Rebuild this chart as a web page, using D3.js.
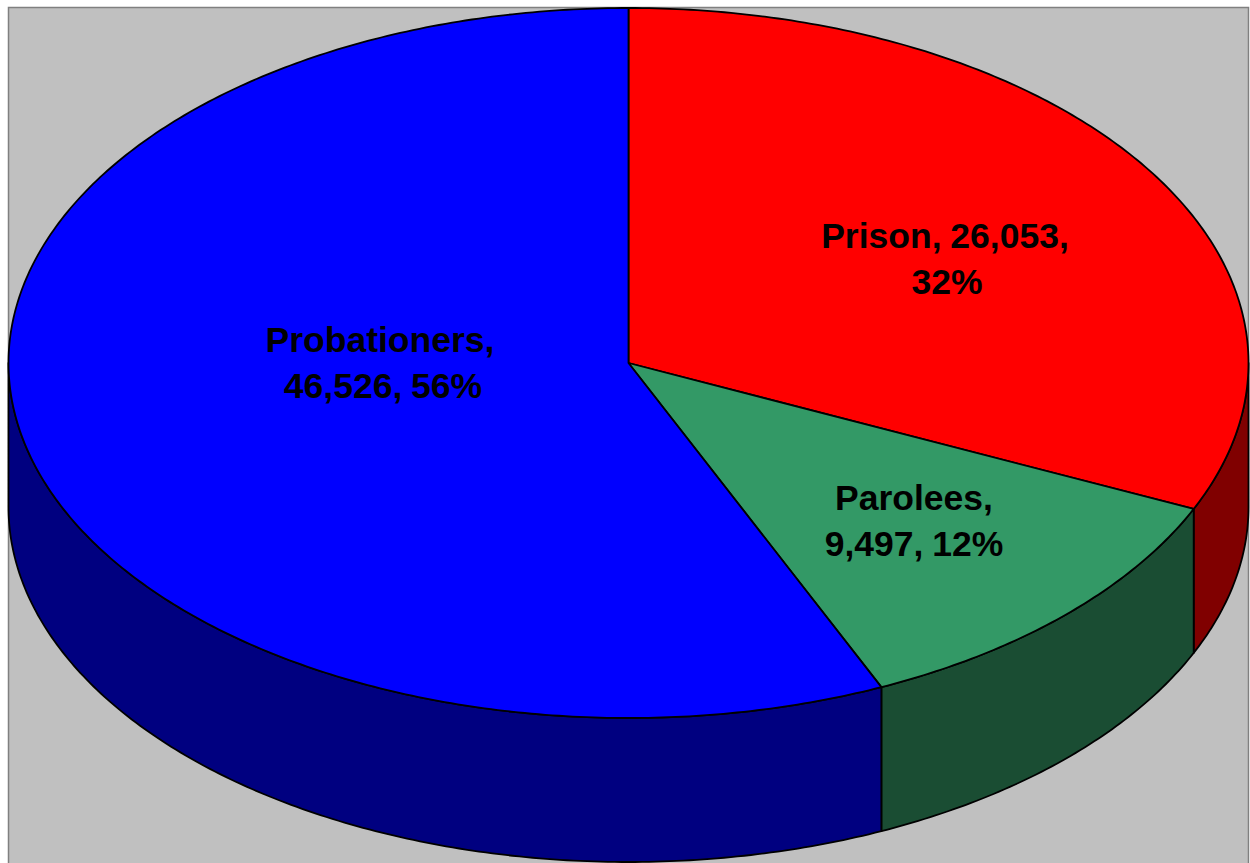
<!DOCTYPE html>
<html>
<head>
<meta charset="utf-8">
<script src="https://cdn.jsdelivr.net/npm/d3@7"></script>
<style>
  html, body { margin: 0; padding: 0; background: #fff; overflow: hidden; }
  text { font-family: "Liberation Sans", Arial, sans-serif; font-weight: bold; font-size: 35.5px; word-spacing: -1px; fill: #000; }
</style>
</head>
<body>
<script>
// chart data
var categories = ["Prison", "Parolees", "Probationers"];
var counts = [26053, 9497, 46526];
var percents = ["32%", "12%", "56%"];
var topColors = ["#ff0000", "#339966", "#0000ff"];
var sideColors = ["#800000", "#1a4d33", "#000080"];
var labelLines = [
  ["Prison, 26,053,", "32%"],
  ["Parolees,", "9,497, 12%"],
  ["Probationers,", "46,526, 56%"]
];

var svgWidth = 1250;
var svgHeight = 863;
var cx = 628.5, cy = 363, rx = 620, ry = 355, depth = 144;

var svg = d3.select("body").append("svg")
  .attr("width", svgWidth)
  .attr("height", svgHeight)
  .style("display", "block");

// plot area
svg.append("rect")
  .attr("x", 8.5).attr("y", 7.5)
  .attr("width", 1240).attr("height", 860)
  .attr("fill", "#c0c0c0")
  .attr("stroke", "#808080")
  .attr("stroke-width", 1.5);

var pie = d3.pie().sort(null).value(function(d) { return d; });
var slices = pie(counts);

// pie angle -> point on the tilted ellipse
function px(a) { return cx + rx * Math.sin(a); }
function py(a, drop) { return cy - ry * Math.cos(a) + (drop || 0); }

function arcPoints(a0, a1, drop) {
  var n = Math.max(2, Math.ceil((a1 - a0) * 90));
  return d3.range(n + 1).map(function(i) {
    var a = a0 + (a1 - a0) * i / n;
    return [px(a), py(a, drop)];
  });
}

var line = d3.line();

// side walls, only the part of the rim facing us (right of 90deg through left at 270deg)
slices.forEach(function(s, i) {
  var a0 = Math.max(s.startAngle, Math.PI / 2);
  var a1 = Math.min(s.endAngle, Math.PI * 1.5);
  if (a1 <= a0) return;
  var pts = arcPoints(a0, a1, 0).concat(arcPoints(a0, a1, depth).reverse());
  svg.append("path")
    .attr("d", line(pts) + "Z")
    .attr("fill", sideColors[i])
    .attr("stroke", "#000")
    .attr("stroke-width", 1.8)
    .attr("stroke-linejoin", "round");
});

// top face
svg.selectAll("path.slice")
  .data(slices)
  .enter()
  .append("path")
  .attr("class", "slice")
  .attr("d", function(s) {
    return line([[cx, cy]].concat(arcPoints(s.startAngle, s.endAngle, 0))) + "Z";
  })
  .attr("fill", function(s, i) { return topColors[i]; })
  .attr("stroke", "#000")
  .attr("stroke-width", 1.8)
  .attr("stroke-linejoin", "round");

// labels, each line placed on its own since the second lines sit a bit off centre
var labelPos = [
  [[945, 248], [947, 294]],
  [[914, 510], [914, 556]],
  [[380, 352], [383, 398]]
];
labelLines.forEach(function(lines, i) {
  lines.forEach(function(txt, j) {
    svg.append("text")
      .attr("text-anchor", "middle")
      .attr("x", labelPos[i][j][0])
      .attr("y", labelPos[i][j][1])
      .text(txt);
  });
});
</script>
</body>
</html>
